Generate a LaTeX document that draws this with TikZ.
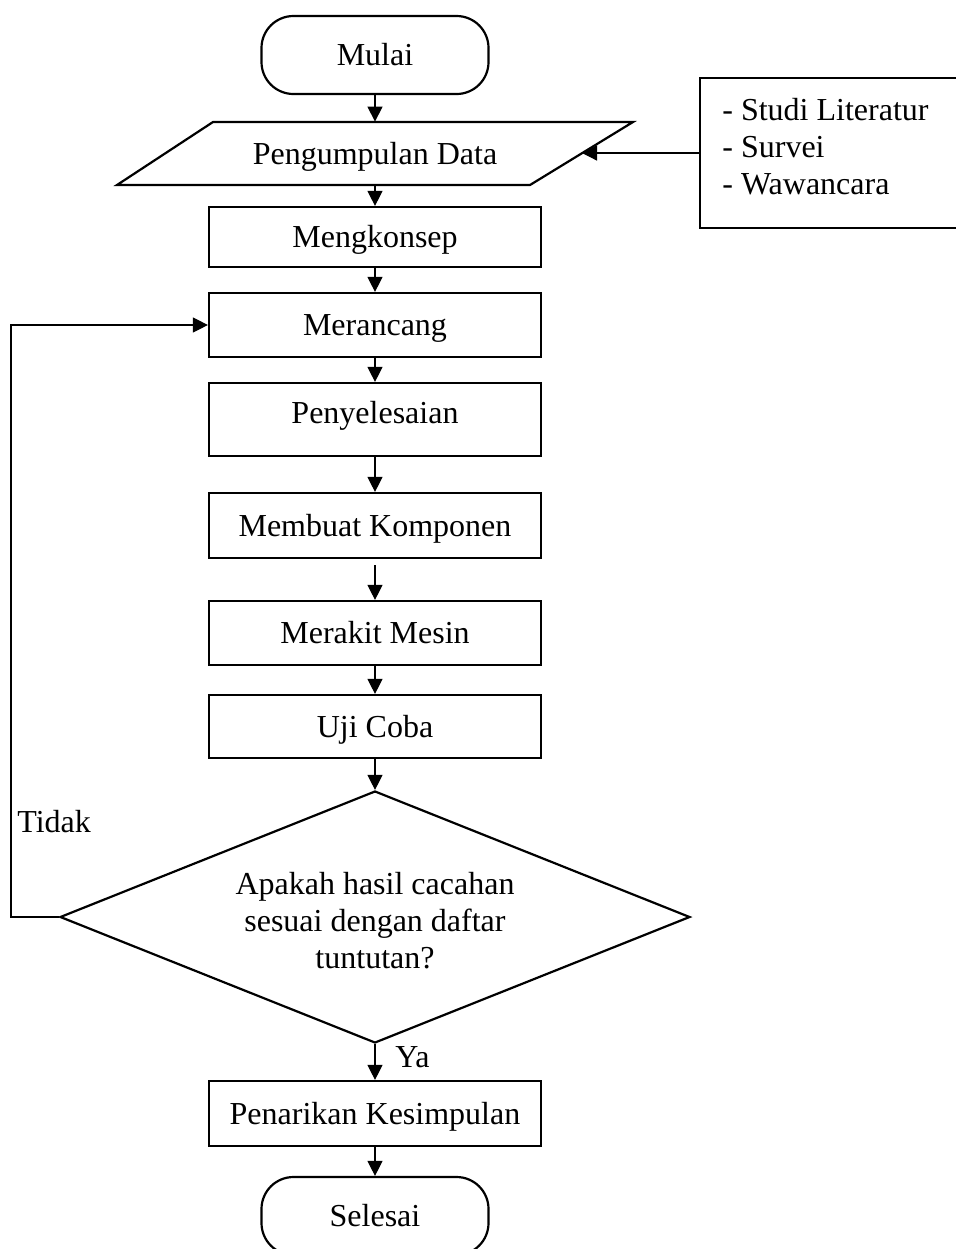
\documentclass[tikz,border=0pt]{standalone}
\usepackage{fontspec}
\setmainfont{Liberation Serif}
\usetikzlibrary{shapes.geometric,arrows.meta}
\begin{document}
\begin{tikzpicture}[x=0.5pt,y=-0.5pt,
  font=\fontsize{16}{18.5}\selectfont,
  shapeline/.style={draw, line width=1.1pt},
  box/.style={shapeline, minimum width=166pt, inner sep=0pt, text height=14pt, text depth=3.5pt},
  term/.style={shapeline, rounded corners=16pt, minimum width=113.5pt, minimum height=39pt, inner sep=0pt, text height=14pt, text depth=3.5pt},
  arr/.style={line width=0.6pt, -{Triangle[length=7.5pt,width=7.5pt]}},
  plain/.style={inner sep=0pt},
]
\useasboundingbox (0,0) rectangle (956,1249);

% terminals
\node[term] (mulai) at (375,55) {Mulai};
\node[term] (selesai) at (375,1216) {Selesai};

% data input (parallelogram)
\draw[line width=1.1pt] (117,185) -- (213,122) -- (633,122) -- (530,185) -- cycle;
\node[plain, minimum width=200pt, minimum height=31.5pt, text height=14pt, text depth=3.5pt] (data) at (375,153.5) {Pengumpulan Data};
\coordinate (dataR) at (582,153);

% side box
\node[shapeline, minimum width=129pt, minimum height=75pt] (side) at (829,153) {};
\node[plain, anchor=north west, align=left] (sidetxt) at (722,98) {- Studi Literatur\\- Survei\\- Wawancara};

% process boxes
\node[box, minimum height=30pt] (konsep) at (375,237) {Mengkonsep};
\node[box, minimum height=32pt] (rancang) at (375,325) {Merancang};
\node[box, minimum height=36.5pt, text depth=10.5pt] (selesaikan) at (375,419.5) {Penyelesaian};
\node[box, minimum height=32.5pt] (buat) at (375,525.5) {Membuat Komponen};
\node[box, minimum height=32pt] (rakit) at (375,633) {Merakit Mesin};
\node[box, minimum height=31.5pt] (uji) at (375,726.5) {Uji Coba};
\node[box, minimum height=32.5pt] (tarik) at (375,1113.5) {Penarikan Kesimpulan};

% decision
\node[shapeline, diamond, aspect=2.5, minimum width=315pt, minimum height=126pt, inner sep=0pt] (dec) at (375,917) {};
\node[plain, align=center] (dectxt) at (375,921) {Apakah hasil cacahan\\sesuai dengan daftar\\tuntutan?};

% labels
\node[plain, anchor=west] (tidak) at (17,822) {Tidak};
\node[plain, anchor=west] (ya) at (395,1057) {Ya};

% connectors
\draw[arr] (mulai.south) -- (data.north);
\draw[arr] (side.west) -- (dataR);
\draw[arr] (data.south) -- (konsep.north);
\draw[arr] (konsep.south) -- (rancang.north);
\draw[arr] (rancang.south) -- (selesaikan.north);
\draw[arr] (selesaikan.south) -- (buat.north);
\draw[arr, shorten <=3pt] (buat.south) -- (rakit.north);
\draw[arr] (rakit.south) -- (uji.north);
\draw[arr] (uji.south) -- (dec.north);
\draw[arr] (dec.south) -- (tarik.north);
\draw[arr] (tarik.south) -- (selesai.north);
\draw[arr] (dec.west) -- ++(-48,0) |- (rancang.west);
\end{tikzpicture}
\end{document}
